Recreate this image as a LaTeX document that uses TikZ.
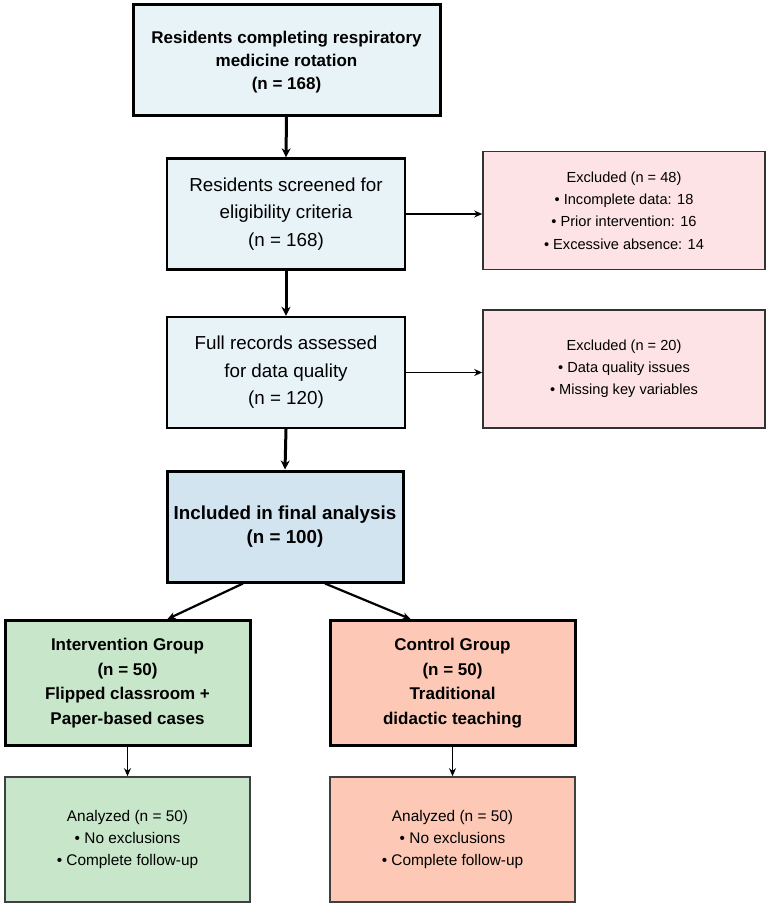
\documentclass[tikz,border=0pt]{standalone}
\usepackage{fontspec}
\setmainfont{Liberation Sans}
\usetikzlibrary{arrows.meta}

\definecolor{paleblue}{HTML}{E8F3F8}
\definecolor{midblue}{HTML}{D3E4F1}
\definecolor{palepink}{HTML}{FDE3E5}
\definecolor{palegreen}{HTML}{C8E6CA}
\definecolor{salmon}{HTML}{FDC9B6}

\begin{document}
\begin{tikzpicture}[x=1pt,y=-1pt,
    box/.style={draw=black, align=center, inner sep=2pt},
    flowbox/.style={box, fill=paleblue, line width=2.4pt, minimum width=238pt, minimum height=111pt,
        font=\fontsize{18.8}{27.5}\selectfont},
    exclbox/.style={box, fill=palepink, draw=black!80, line width=1.6pt, minimum width=282pt, minimum height=118pt,
        font=\fontsize{14.6}{22.2}\selectfont},
    groupbox/.style={box, line width=3pt, minimum width=245pt, minimum height=125pt,
        font=\fontsize{17}{24.5}\selectfont\bfseries},
    endbox/.style={box, draw=black!75, line width=1.6pt, minimum width=245pt, minimum height=125pt,
        font=\fontsize{15.4}{22}\selectfont},
    bigarrow/.style={-{Stealth[length=9pt,width=9pt]}, line width=3pt},
    thinarrow/.style={-{Stealth[length=8pt,width=7pt]}, line width=1.9pt}]
\useasboundingbox (0,0) rectangle (767,907);

% main column
\node[box, fill=paleblue, line width=3pt, minimum width=307pt, minimum height=110pt,
    font=\fontsize{17}{23}\selectfont\bfseries] (enrol) at (286.5,60)
    {\rule{0pt}{16pt}Residents completing respiratory\\medicine rotation\\(n = 168)};
\node[flowbox] (screen) at (286,214) {Residents screened for\\eligibility criteria\\(n = 168)};
\node[flowbox] (records) at (286,372.5) {Full records assessed\\for data quality\\(n = 120)};
\node[box, fill=midblue, line width=3pt, minimum width=236pt, minimum height=111pt,
    font=\fontsize{18.8}{24}\selectfont\bfseries] (incl) at (285,526.5)
    {Included in final analysis\\(n = 100)};

% exclusions
\node[exclbox] (excl1) at (624,210.5) {Excluded (n = 48)\\\textbullet\ Incomplete data: 18\\
    \textbullet\ Prior intervention: 16\\\textbullet\ Excessive absence: 14};
\node[exclbox] (excl2) at (624,369) {Excluded (n = 20)\\\textbullet\ Data quality issues\\
    \textbullet\ Missing key variables};

% groups
\node[groupbox, fill=palegreen] (interv) at (127.5,683)
    {Intervention Group\\(n = 50)\\Flipped classroom +\\Paper-based cases};
\node[groupbox, fill=salmon] (ctrl) at (452.5,683)
    {Control Group\\(n = 50)\\Traditional\\didactic teaching};
\node[endbox, fill=palegreen] (anaint) at (127.5,839.5)
    {Analyzed (n = 50)\\\textbullet\ No exclusions\\\textbullet\ Complete follow-up};
\node[endbox, fill=salmon] (anactrl) at (452.5,839.5)
    {Analyzed (n = 50)\\\textbullet\ No exclusions\\\textbullet\ Complete follow-up};

% connectors
\draw[bigarrow] (enrol.south) -- (screen.north);
\draw[bigarrow] (screen.south) -- (records.north);
\draw[bigarrow] (records.south) -- (incl.north);
\draw[thinarrow] (screen.east) -- (screen.east -| excl1.west);
\draw[thinarrow] (records.east) -- (records.east -| excl2.west);
\draw[thinarrow, line width=2.2pt] ([xshift=-42pt]incl.south) -- ([xshift=40pt]interv.north);
\draw[thinarrow, line width=2.2pt] ([xshift=40pt]incl.south) -- ([xshift=-42pt]ctrl.north);
\draw[thinarrow] (interv.south) -- (anaint.north);
\draw[thinarrow] (ctrl.south) -- (anactrl.north);
\end{tikzpicture}
\end{document}
